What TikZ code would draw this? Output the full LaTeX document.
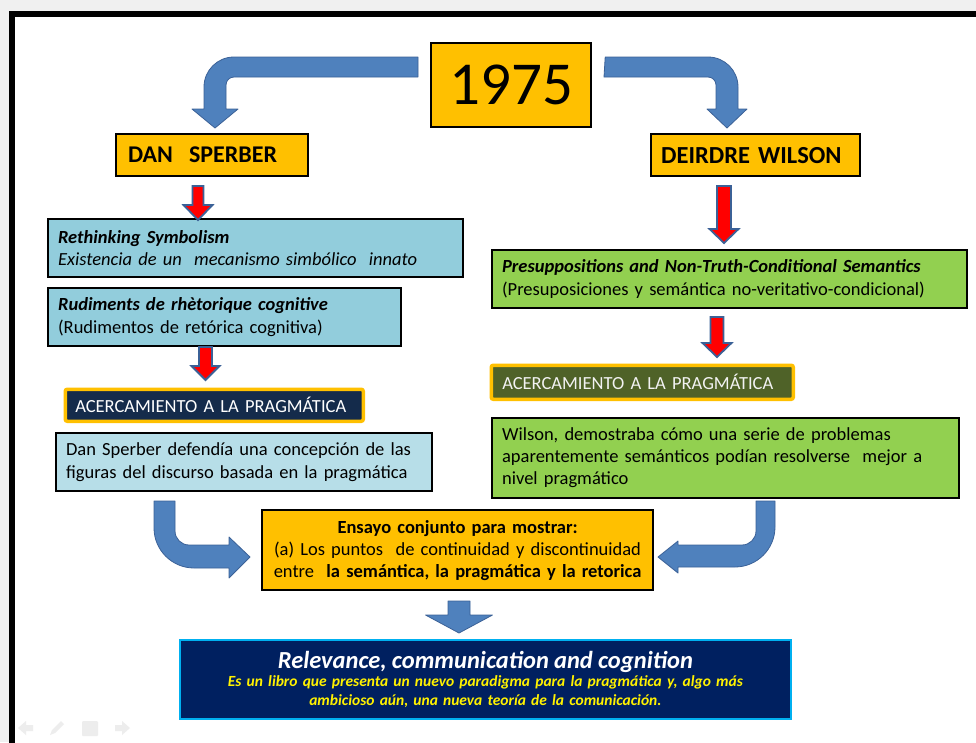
\documentclass[tikz,border=0pt]{standalone}
\usepackage{fontspec}
\setmainfont{Carlito}[WordSpace=0.65]
\definecolor{boxorange}{HTML}{FFC000}
\definecolor{boxblue}{HTML}{92CDDC}
\definecolor{boxpale}{HTML}{B7DEE8}
\definecolor{boxgreen}{HTML}{92D050}
\definecolor{boxnavy}{HTML}{142B4B}
\definecolor{boxolive}{HTML}{4F6228}
\definecolor{relnavy}{HTML}{002060}
\definecolor{relrim}{HTML}{00B0F0}
\definecolor{arrblue}{HTML}{4F81BD}
\definecolor{arrrim}{HTML}{3B6197}
\definecolor{outside}{HTML}{F0F0F0}
\newcommand\fsz[2]{\fontsize{#1}{#2}\selectfont}
% straight downward block arrow: x, top, head start, tip, half shaft, half head, style
\newcommand\dnarrow[7]{%
  \filldraw[#7] (#1-#5,#2) -- (#1+#5,#2) -- (#1+#5,#3) -- (#1+#6,#3) -- (#1,#4)
    -- (#1-#6,#3) -- (#1-#5,#3) -- cycle;}
\begin{document}
\begin{tikzpicture}[x=1pt,y=-1pt,
  box/.style={draw=black, line width=2.2pt, anchor=north west, inner xsep=10pt,
    inner ysep=0pt, align=left, font=\fsz{18.5}{22.5}},
  tagbox/.style={draw=boxorange, line width=3.5pt, rounded corners=2pt, anchor=north west,
    inner xsep=4pt, inner ysep=0pt, align=left, font=\fsz{18.5}{21}},
  redarr/.style={fill=red, draw=arrrim, line width=1.8pt, line join=miter},
  bluearr/.style={fill=arrblue, draw=arrrim, line width=0.8pt, line join=round}]
\useasboundingbox (0,0) rectangle (976,742);
% slide backdrop and frame
\fill[outside] (0,0) rectangle (976,742);
\fill[white] (12,14) rectangle (990,760);
\draw[line width=5.5pt] (12,760) -- (12,14) -- (990,14);

% year and authors
\node[box, fill=boxorange, minimum width=160pt, minimum height=84pt, align=center,
  font=\fsz{61}{62}] (year) at (430,42) {1975};
\node[box, fill=boxorange, minimum width=192pt, minimum height=42pt, inner xsep=12pt,
  text width=168pt, font=\fsz{24}{26}\bfseries] (dan) at (115,133) {DAN\ \ SPERBER};
\node[box, fill=boxorange, minimum width=209pt, minimum height=42pt, inner xsep=10pt,
  text width=189pt, font=\fsz{24.5}{26}\bfseries] (deirdre) at (650,133) {DEIRDRE WILSON};

% Sperber column
\node[box, fill=boxblue, minimum width=415pt, minimum height=58pt, text width=395pt]
  (reth) at (47,218) {\textbf{\textit{Rethinking Symbolism}}\\
  \textit{Existencia de un\ \ mecanismo simbólico\ \ innato}};
\node[box, fill=boxblue, minimum width=353pt, minimum height=58pt, text width=333pt]
  (rud) at (47,287) {\textbf{\textit{Rudiments de rhètorique cognitive}}\\
  (Rudimentos de retórica cognitiva)};
\node[tagbox, fill=boxnavy, text=white, minimum width=298pt, minimum height=32pt,
  text width=290pt] (acl) at (63.5,387.5) {\hspace*{6pt}ACERCAMIENTO A LA PRAGMÁTICA};
\node[box, fill=boxpale, minimum width=376pt, minimum height=58pt, text width=356pt]
  (sper) at (55,432)
  {Dan Sperber defendía una concepción de las\\ figuras del discurso basada en la pragmática};

% Wilson column
\node[box, fill=boxgreen, minimum width=475pt, minimum height=58pt, text width=455pt]
  (pres) at (491,249) {\textbf{\textit{Presuppositions and Non-Truth-Conditional Semantics}}\\
  (Presuposiciones y semántica no-veritativo-condicional)};
\node[tagbox, fill=boxolive, text=black!5, minimum width=302pt, minimum height=34pt,
  text width=294pt] (acr) at (489.5,363.5) {\hspace*{7pt}ACERCAMIENTO A LA PRAGMÁTICA};
\node[box, fill=boxgreen, minimum width=467pt, minimum height=80pt, text width=447pt,
  font=\fsz{18.5}{22}] (wil) at (491,417)
  {Wilson, demostraba cómo una serie de problemas\\
  aparentemente semánticos podían resolverse\ \ mejor a\\ nivel pragmático};

% joint essay and the book
\node[box, fill=boxorange, minimum width=391pt, minimum height=80pt, text width=383pt,
  inner xsep=4pt, align=center, font=\fsz{18.5}{22}] (ens) at (261,509)
  {\textbf{Ensayo conjunto para mostrar:}\\
  (a) Los puntos\ \ de continuidad y discontinuidad\\
  entre\ \ \textbf{la semántica, la pragmática y la retorica}};
\node[box, draw=relrim, line width=2.8pt, fill=relnavy, minimum width=611pt,
  minimum height=79pt, text width=591pt, align=center, font=\fsz{15.5}{18.5}\bfseries\itshape]
  (rel) at (178.5,638.5)
  {{\color{white}\fsz{24.5}{26}Relevance, communication and cognition}\\[0pt]
  {\color{yellow}Es un libro que presenta un nuevo paradigma para la pragmática y, algo más\\
  ambicioso aún, una nueva teoría de la comunicación.}};

% bent arrows from the year to each author
\filldraw[bluearr] (year.west |- 0,57) ++(-12,0) -- (234,57)
  .. controls (217.4,57) and (204,70.4) .. (204,87) -- (204,109) -- (192,109)
  -- (215,128) -- (238,109) -- (226,109) -- (226,85)
  .. controls (226,80.6) and (229.6,77) .. (234,77) -- (418,77) -- cycle;
\filldraw[bluearr] (year.east |- 0,57) ++(13,0) -- (708,57)
  .. controls (724.6,57) and (738,70.4) .. (738,87) -- (738,109) -- (747,109)
  -- (727,128) -- (707,109) -- (716,109) -- (716,85)
  .. controls (716,80.6) and (712.4,77) .. (708,77) -- (604,77) -- cycle;

% red arrows down each column
\dnarrow{198}{186}{205}{220}{5.5}{14.5}{redarr}
\dnarrow{205.5}{347}{366}{380}{6.5}{14}{redarr}
\dnarrow{724}{186}{229}{243}{7}{14.5}{redarr}
\dnarrow{717}{317}{343}{357}{6.5}{14.5}{redarr}

% bent arrows into the joint essay
\filldraw[bluearr] (154,501) -- (154,528) .. controls (154,550) and (172,568) .. (194,568)
  -- (229,568) -- (229,578) -- (250,557) -- (229,537) -- (229,545) -- (189,545)
  .. controls (181.3,545) and (175,538.7) .. (175,531) -- (175,501) -- cycle;
\filldraw[bluearr] (775,501) -- (775,527) .. controls (775,549) and (757,567) .. (735,567)
  -- (678,567) -- (678,573) -- (658,557) -- (678,541) -- (678,545) -- (742,545)
  .. controls (749.7,545) and (756,538.7) .. (756,531) -- (756,501) -- cycle;

% arrow down to the book
\dnarrow{459}{601}{615}{633}{11}{33.5}{bluearr}

% faint slideshow controls
\begin{scope}[fill=black!7, draw=none]
  \fill (18,728) -- (26,721) -- (26,725) -- (33,725) -- (33,731) -- (26,731) -- (26,735) -- cycle;
  \fill (50,735) -- (52,730) -- (61,721) -- (64,724) -- (55,733) -- cycle;
  \fill[rounded corners=1pt] (82,721) rectangle (98,736);
  \fill (130,728) -- (122,721) -- (122,725) -- (115,725) -- (115,731) -- (122,731) -- (122,735) -- cycle;
\end{scope}
\end{tikzpicture}
\end{document}
